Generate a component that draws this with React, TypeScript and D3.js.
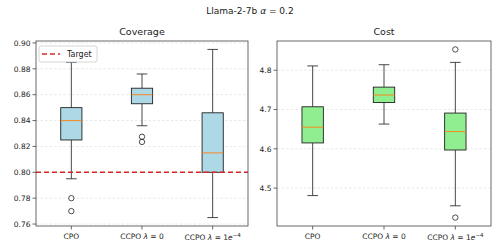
import React from "react";
import * as d3 from "d3";

const categories = ["CPO", "CCPO λ=0", "CCPO λ=1e-4"];
// [whiskerLow, q1, median, q3, whiskerHigh]
const coverageStats = [
  [0.795, 0.825, 0.84, 0.85, 0.885],
  [0.836, 0.853, 0.86, 0.865, 0.876],
  [0.765, 0.8, 0.815, 0.846, 0.895],
];
const coverageOutliers = [[0.78, 0.77], [0.8275, 0.8235], []];
const costStats = [
  [4.481, 4.615, 4.655, 4.707, 4.811],
  [4.663, 4.718, 4.737, 4.757, 4.814],
  [4.455, 4.597, 4.644, 4.691, 4.82],
];
const costOutliers = [[], [], [4.853, 4.425]];
const coverageTicks = [0.76, 0.78, 0.8, 0.82, 0.84, 0.86, 0.88, 0.9];
const costTicks = [4.5, 4.6, 4.7, 4.8];
const targetValue = 0.8;

const FONT = "DejaVu Sans";

function XLabel({ i, x, y }: { i: number; x: number; y: number }) {
  const fs = 7.5;
  if (i === 0)
    return (
      <text x={x} y={y} textAnchor="middle" fontSize={fs} fontFamily={FONT} fill="#222">{categories[0]}</text>
    );
  if (i === 1)
    return (
      <text x={x} y={y} textAnchor="middle" fontSize={fs} fontFamily={FONT} fill="#222">
        CCPO <tspan fontStyle="italic">λ</tspan> = 0
      </text>
    );
  return (
    <text x={x} y={y + 1} textAnchor="middle" fontSize={fs} fontFamily={FONT} fill="#222">
      CCPO <tspan fontStyle="italic">λ</tspan> = 1<tspan fontStyle="italic">e</tspan>
      <tspan dy={-3.5} fontSize={5.5}>−4</tspan>
    </text>
  );
}

function Panel({
  left, right, top, bottom, stats, outliers, ticks, fmt, fill, title, target,
}: {
  left: number; right: number; top: number; bottom: number;
  stats: number[][]; outliers: number[][]; ticks: number[];
  fmt: (v: number) => string; fill: string; title: string; target?: number;
}) {
  const all = stats.flat().concat(outliers.flat());
  const lo = d3.min(all)!;
  const hi = d3.max(all)!;
  const pad = (hi - lo) * 0.05;
  const y = d3.scaleLinear().domain([lo - pad, hi + pad]).range([bottom, top]);
  const x = d3.scaleLinear().domain([0.5, 3.5]).range([left, right]);
  const bw = x(1.3) - x(1);
  const cw = bw / 2;
  const spine = "#444";
  return (
    <g>
      <text x={(left + right) / 2} y={top - 6} textAnchor="middle" fontSize={9.5} fontFamily={FONT} fill="#222">
        {title}
      </text>
      {ticks.map((t) => (
        <g key={t}>
          <line x1={left} x2={right} y1={y(t)} y2={y(t)} stroke="#dadada" strokeWidth={0.6} strokeDasharray="2.5,2" />
          <line x1={left - 3.5} x2={left} y1={y(t)} y2={y(t)} stroke={spine} strokeWidth={0.8} />
          <text x={left - 5.5} y={y(t) + 2.8} textAnchor="end" fontSize={7.5} fontFamily={FONT} fill="#222">
            {fmt(t)}
          </text>
        </g>
      ))}
      {stats.map((s, i) => {
        const cx = x(i + 1);
        return (
          <g key={i}>
            <line x1={cx} x2={cx} y1={y(s[0])} y2={y(s[1])} stroke="#333" strokeWidth={0.9} />
            <line x1={cx} x2={cx} y1={y(s[3])} y2={y(s[4])} stroke="#333" strokeWidth={0.9} />
            <line x1={cx - cw / 2} x2={cx + cw / 2} y1={y(s[0])} y2={y(s[0])} stroke="#333" strokeWidth={0.9} />
            <line x1={cx - cw / 2} x2={cx + cw / 2} y1={y(s[4])} y2={y(s[4])} stroke="#333" strokeWidth={0.9} />
            <rect x={cx - bw / 2} y={y(s[3])} width={bw} height={y(s[1]) - y(s[3])} fill={fill} stroke="#222" strokeWidth={0.9} />
            <line x1={cx - bw / 2} x2={cx + bw / 2} y1={y(s[2])} y2={y(s[2])} stroke="#ff7f0e" strokeWidth={0.9} />
            {outliers[i].map((o, j) => (
              <circle key={j} cx={cx} cy={y(o)} r={2.7} fill="none" stroke="#222" strokeWidth={0.8} />
            ))}
            <line x1={cx} x2={cx} y1={bottom} y2={bottom + 3.5} stroke={spine} strokeWidth={0.8} />
            <XLabel i={i} x={cx} y={bottom + 13} />
          </g>
        );
      })}
      {target !== undefined && (
        <line x1={left} x2={right} y1={y(target)} y2={y(target)} stroke="#d62728" strokeWidth={1.4} strokeDasharray="5,3" />
      )}
      <rect x={left} y={top} width={right - left} height={bottom - top} fill="none" stroke={spine} strokeWidth={0.8} />
      {target !== undefined && (
        <g>
          <rect x={left + 3} y={top + 5} width={58} height={16} rx={2} fill="white" fillOpacity={0.8} stroke="#ccc" strokeWidth={0.8} />
          <line x1={left + 6} x2={left + 24} y1={top + 13} y2={top + 13} stroke="#d62728" strokeWidth={1.4} strokeDasharray="5,3" />
          <text x={left + 31} y={top + 16} fontSize={8} fontFamily={FONT} fill="#222">Target</text>
        </g>
      )}
    </g>
  );
}

export default function App() {
  return (
    <svg width={500} height={252} style={{ position: "absolute", left: 0, top: 0, background: "white" }}>
      <rect width={500} height={252} fill="white" />
      <text x={250} y={14} textAnchor="middle" fontSize={9} fontFamily={FONT} fill="#222">
        Llama-2-7b <tspan fontStyle="italic">α</tspan> = 0.2
      </text>
      <Panel left={36} right={248} top={41} bottom={226} stats={coverageStats} outliers={coverageOutliers}
        ticks={coverageTicks} fmt={(v) => v.toFixed(2)} fill="#add8e6" title="Coverage" target={targetValue} />
      <Panel left={277} right={491} top={41} bottom={226} stats={costStats} outliers={costOutliers}
        ticks={costTicks} fmt={(v) => v.toFixed(1)} fill="#90ee90" title="Cost" />
    </svg>
  );
}
